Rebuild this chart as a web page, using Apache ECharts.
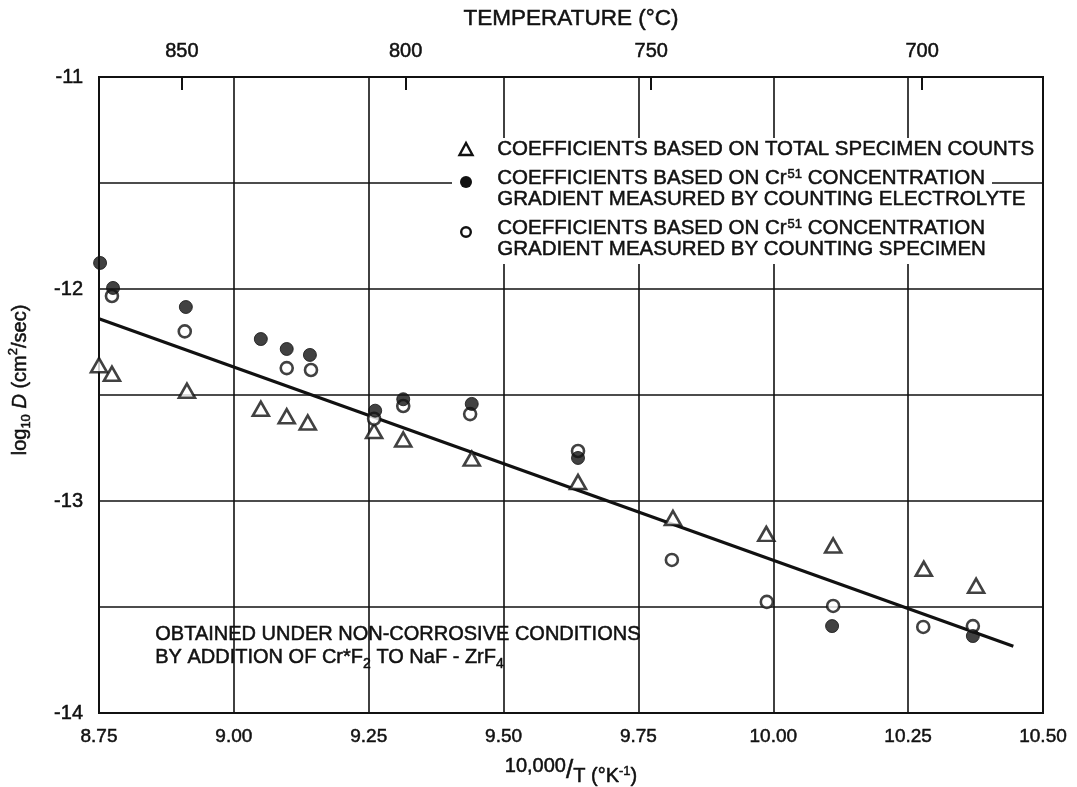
<!DOCTYPE html>
<html>
<head>
<meta charset="utf-8">
<script src="https://cdn.jsdelivr.net/npm/echarts@6/dist/echarts.min.js"></script>
<style>
html,body{margin:0;padding:0;background:#fff;}
#chart{width:1077px;height:787px;}
</style>
</head>
<body>
<div id="chart"></div>
<script>
// ---- data ----
const xMin = 8.75, xMax = 10.50, xStep = 0.25;
const yMin = -14, yMax = -11, yStep = 0.5;
const tempTicksC = [850, 800, 750, 700];

const totalCountsX = [8.750, 8.774, 8.913, 9.050, 9.098, 9.137, 9.260, 9.314, 9.441, 9.638, 9.814, 9.987, 10.111, 10.279, 10.376];
const totalCountsY = [-12.36, -12.40, -12.48, -12.565, -12.60, -12.63, -12.67, -12.71, -12.80, -12.91, -13.08, -13.155, -13.21, -13.32, -13.40];

const electrolyteX = [8.752, 8.776, 8.911, 9.050, 9.098, 9.141, 9.262, 9.314, 9.441, 9.638, 10.109, 10.370];
const electrolyteY = [-11.877, -11.995, -12.085, -12.236, -12.283, -12.311, -12.574, -12.52, -12.542, -12.797, -13.59, -13.637];

const specimenX = [8.774, 8.909, 9.098, 9.143, 9.260, 9.314, 9.438, 9.638, 9.812, 9.988, 10.111, 10.278, 10.370];
const specimenY = [-12.033, -12.20, -12.373, -12.382, -12.612, -12.552, -12.59, -12.764, -13.278, -13.476, -13.495, -13.594, -13.59];

const fitX = [8.75, 10.445];
const fitY = [-12.14, -13.685];

const seriesNames = [
  'COEFFICIENTS BASED ON TOTAL SPECIMEN COUNTS',
  'COEFFICIENTS BASED ON Cr51 CONCENTRATION GRADIENT MEASURED BY COUNTING ELECTROLYTE',
  'COEFFICIENTS BASED ON Cr51 CONCENTRATION GRADIENT MEASURED BY COUNTING SPECIMEN'
];

// ---- build ----
const zip = (xs, ys) => xs.map((x, i) => [x, ys[i]]);
const tempPos = tempTicksC.map(t => 10000 / (t + 273.15));
const FONT = 'Liberation Sans';
const INK = '#111';
const BW = 0.5; // slight stroke to mimic the heavier hand lettering

const chart = echarts.init(document.getElementById('chart'), null, {renderer: 'canvas'});

// option-level text stroke
const tb = {textBorderColor: INK, textBorderWidth: BW};
// graphic (zrender) rich tokens
const gTxt = {fontFamily: FONT, fontSize: 20.5, fill: INK, stroke: INK, lineWidth: BW, lineHeight: 21};
const gSup = {fontFamily: FONT, fontSize: 13, fill: INK, stroke: INK, lineWidth: BW, verticalAlign: 'top', lineHeight: 21, padding: [0, 0, 0, 1]};
const gSub = {fontFamily: FONT, fontSize: 14, fill: INK, stroke: INK, lineWidth: BW, verticalAlign: 'bottom', lineHeight: 26};

const option = {
  backgroundColor: '#fff',
  animation: false,
  grid: {left: 99, right: 34, top: 77, bottom: 74, show: true, borderColor: INK, borderWidth: 2,
    backgroundColor: 'transparent', containLabel: false, outerBoundsMode: 'none'},
  xAxis: [{
    type: 'value', min: xMin, max: xMax, interval: xStep, position: 'bottom',
    axisLine: {show: true, lineStyle: {color: INK, width: 2}},
    axisTick: {show: false},
    splitLine: {show: true, lineStyle: {color: INK, width: 1.6}},
    axisLabel: Object.assign({fontFamily: FONT, fontSize: 19, color: INK, margin: 14,
      formatter: v => v.toFixed(2)}, tb),
    name: '{a|10,000}{s|/}{b|T (°K}{p|-1}{b|)}',
    nameLocation: 'middle', nameGap: 43,
    nameTextStyle: {rich: {
      a: Object.assign({fontFamily: FONT, fontSize: 20, color: INK, verticalAlign: 'top', lineHeight: 30}, tb),
      s: Object.assign({fontFamily: FONT, fontSize: 26, color: INK, lineHeight: 30}, tb),
      b: Object.assign({fontFamily: FONT, fontSize: 20, color: INK, verticalAlign: 'bottom', lineHeight: 30}, tb),
      p: Object.assign({fontFamily: FONT, fontSize: 13, color: INK, verticalAlign: 'middle', lineHeight: 30}, tb)
    }}
  }, {
    type: 'value', min: xMin, max: xMax, position: 'top',
    axisLine: {show: true, lineStyle: {color: INK, width: 2}},
    axisTick: {show: true, inside: true, length: 13, customValues: tempPos, lineStyle: {color: INK, width: 2}},
    splitLine: {show: false},
    axisLabel: Object.assign({fontFamily: FONT, fontSize: 20, color: INK, margin: 16, customValues: tempPos,
      formatter: v => String(Math.round(10000 / v - 273.15))}, tb),
    name: 'TEMPERATURE (°C)', nameLocation: 'middle', nameGap: 47,
    nameTextStyle: Object.assign({fontFamily: FONT, fontSize: 22.5, color: INK}, tb)
  }],
  yAxis: {
    type: 'value', min: yMin, max: yMax, interval: yStep,
    axisLine: {show: true, lineStyle: {color: INK, width: 2}},
    axisTick: {show: false},
    splitLine: {show: true, lineStyle: {color: INK, width: 1.6}},
    axisLabel: Object.assign({fontFamily: FONT, fontSize: 20, color: INK, margin: 16,
      formatter: v => (Math.abs(v - Math.round(v)) < 1e-6 ? String(Math.round(v)) : '')}, tb),
    name: '{a|log}{b|10}{a| }{i|D}{a| (cm}{c|2}{a|/sec)}',
    nameLocation: 'middle', nameRotate: 90, nameGap: 66,
    nameTextStyle: {padding: [0, 0, 0, 30], rich: {
      a: Object.assign({fontFamily: FONT, fontSize: 20, color: INK, lineHeight: 26}, tb),
      i: Object.assign({fontFamily: FONT, fontSize: 20, color: INK, fontStyle: 'italic', lineHeight: 26}, tb),
      b: Object.assign({fontFamily: FONT, fontSize: 13, color: INK, verticalAlign: 'bottom', lineHeight: 26}, tb),
      c: Object.assign({fontFamily: FONT, fontSize: 13, color: INK, verticalAlign: 'top', lineHeight: 26}, tb)
    }}
  },
  series: [{
    name: 'fit', type: 'line', data: zip(fitX, fitY), showSymbol: false, symbol: 'none',
    lineStyle: {color: INK, width: 3.2}, z: 2, silent: true
  }, {
    name: seriesNames[0], type: 'scatter', data: zip(totalCountsX, totalCountsY),
    symbol: 'triangle', symbolSize: [16, 14],
    itemStyle: {color: '#fff', borderColor: INK, borderWidth: 2.6}, z: 3
  }, {
    name: seriesNames[2], type: 'scatter', data: zip(specimenX, specimenY),
    symbol: 'circle', symbolSize: 12,
    itemStyle: {color: '#fff', borderColor: INK, borderWidth: 2.6}, z: 4
  }, {
    name: seriesNames[1], type: 'scatter', data: zip(electrolyteX, electrolyteY),
    symbol: 'circle', symbolSize: 13,
    itemStyle: {color: INK, borderColor: INK, borderWidth: 1}, z: 5
  }],
  graphic: [
    // legend block (white backing hides grid lines as in the reference)
    {type: 'rect', left: 452, top: 138, shape: {width: 590, height: 34}, style: {fill: '#fff'}, z: 10},
    {type: 'rect', left: 452, top: 172, shape: {width: 540, height: 22}, style: {fill: '#fff'}, z: 10},
    {type: 'rect', left: 452, top: 194, shape: {width: 590, height: 70}, style: {fill: '#fff'}, z: 10},
    {type: 'polygon', z: 11, shape: {points: [[466, 143], [459.5, 155], [472.5, 155]]},
      style: {fill: '#fff', stroke: INK, lineWidth: 2.4}},
    {type: 'circle', z: 11, shape: {cx: 466, cy: 182, r: 6}, style: {fill: INK}},
    {type: 'circle', z: 11, shape: {cx: 466, cy: 232, r: 4.8}, style: {fill: '#fff', stroke: INK, lineWidth: 2.4}},
    {type: 'text', z: 11, left: 497, top: 139, style: {
      text: '{t|COEFFICIENTS BASED ON TOTAL SPECIMEN COUNTS}', rich: {t: gTxt}}},
    {type: 'text', z: 11, left: 497, top: 168, style: {
      text: '{t|COEFFICIENTS BASED ON Cr}{s|51}{t| CONCENTRATION}\n{t|GRADIENT MEASURED BY COUNTING ELECTROLYTE}',
      rich: {t: gTxt, s: gSup}}},
    {type: 'text', z: 11, left: 497, top: 218, style: {
      text: '{t|COEFFICIENTS BASED ON Cr}{s|51}{t| CONCENTRATION}\n{t|GRADIENT MEASURED BY COUNTING SPECIMEN}',
      rich: {t: gTxt, s: gSup}}},
    // annotation
    {type: 'text', z: 11, left: 155, top: 624, style: {
      text: '{t|OBTAINED UNDER NON-CORROSIVE CONDITIONS}\n{t|BY ADDITION OF Cr*F}{b|2}{t| TO NaF - ZrF}{b|4}',
      rich: {t: Object.assign({}, gTxt, {fontSize: 20}), b: gSub}}}
  ]
};
chart.setOption(option);
</script>
</body>
</html>
